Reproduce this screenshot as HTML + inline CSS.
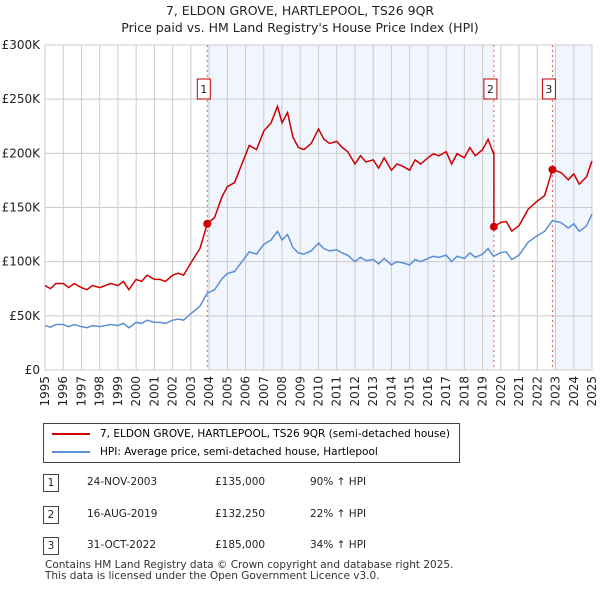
<!DOCTYPE html>
<html><head><meta charset="utf-8"><style>
body{margin:0;background:#fff;font-family:"DejaVu Sans","Liberation Sans",sans-serif;}
#wrap{position:relative;width:600px;height:590px;overflow:hidden}
.t{position:absolute;font-size:12px;color:#222}
svg text{font-family:"DejaVu Sans","Liberation Sans",sans-serif}
</style></head><body><div id="wrap">
<div class="t" style="left:0;width:600px;top:2px;text-align:center;font-size:12.5px;line-height:17px">7, ELDON GROVE, HARTLEPOOL, TS26 9QR<br>Price paid vs. HM Land Registry's House Price Index (HPI)</div>
<svg id="c" width="600" height="420" style="position:absolute;left:0;top:0"></svg>
<div style="position:absolute;left:43px;top:423px;width:415px;height:38px;border:1px solid #444;font-size:10.5px">
 <div style="position:absolute;left:8px;top:4px;white-space:nowrap"><span style="display:inline-block;width:38px;border-top:2px solid #cc0000;vertical-align:middle;margin-right:10px"></span>7, ELDON GROVE, HARTLEPOOL, TS26 9QR (semi-detached house)</div>
 <div style="position:absolute;left:8px;top:22px;white-space:nowrap"><span style="display:inline-block;width:38px;border-top:2px solid #5b8fd4;vertical-align:middle;margin-right:10px"></span>HPI: Average price, semi-detached house, Hartlepool</div>
</div>
<div id="tbl"></div>
<div class="t" style="left:45px;top:560px;font-size:10.5px;line-height:11px;color:#333">Contains HM Land Registry data © Crown copyright and database right 2025.<br>This data is licensed under the Open Government Licence v3.0.</div>
</div>
<script>
const hpiYears=[1995,1995.3,1995.6,1996,1996.3,1996.6,1997,1997.3,1997.6,1998,1998.3,1998.6,1999,1999.3,1999.6,2000,2000.3,2000.6,2001,2001.3,2001.6,2002,2002.3,2002.6,2003,2003.5,2003.9,2004.3,2004.7,2005,2005.4,2005.8,2006.2,2006.6,2007,2007.4,2007.75,2008,2008.3,2008.6,2008.9,2009.2,2009.6,2010,2010.3,2010.6,2011,2011.3,2011.6,2012,2012.3,2012.6,2013,2013.3,2013.6,2014,2014.3,2014.6,2015,2015.3,2015.6,2016,2016.3,2016.6,2017,2017.3,2017.6,2018,2018.3,2018.6,2019,2019.3,2019.6,2020,2020.3,2020.6,2021,2021.5,2022,2022.4,2022.83,2023.3,2023.7,2024,2024.3,2024.7,2025];
const hpiValues=[41000,39500,42000,42000,40000,42000,40000,39000,41000,40000,41000,42000,41000,43000,39000,44000,43000,46000,44000,44000,43000,46000,47000,46000,52000,59000,71000,74000,84000,89000,91000,100000,109000,107000,116000,120000,128000,120000,125000,113000,108000,107000,110000,117000,112000,110000,111000,108000,106000,100000,104000,101000,102000,98000,103000,97000,100000,99000,97000,102000,100000,103000,105000,104000,106000,100000,105000,103000,108000,104000,107000,112000,105000,108400,109000,102000,106000,118000,124000,128000,138000,136000,131000,135000,128000,133000,144000];
const saleYears=[2003.9,2019.62,2022.83];
const salePrices=[135000,132250,185000];
const saleLabels=["1","2","3"];
const saleDates=["24-NOV-2003","16-AUG-2019","31-OCT-2022"];
const salePriceText=["£135,000","£132,250","£185,000"];
const saleHpiText=["90% ↑ HPI","22% ↑ HPI","34% ↑ HPI"];
const yTicks=[0,50000,100000,150000,200000,250000,300000];
const yTickLabels=["£0","£50K","£100K","£150K","£200K","£250K","£300K"];
const xTicks=[1995,1996,1997,1998,1999,2000,2001,2002,2003,2004,2005,2006,2007,2008,2009,2010,2011,2012,2013,2014,2015,2016,2017,2018,2019,2020,2021,2022,2023,2024,2025];

const X0=45,X1=592,Y0=370,Y1=45;
const xs=v=>X0+(v-1995)/30*(X1-X0);
const ys=v=>Y0-v/300000*(Y0-Y1);
const svg=document.getElementById('c');const NS='http://www.w3.org/2000/svg';
function mk(t,a,name){const e=document.createElementNS(NS,t);for(const k in a)e.setAttribute(k,a[k]);


svg.appendChild(e);return e;}
mk('rect',{x:xs(saleYears[0]),y:Y1,width:xs(saleYears[1])-xs(saleYears[0]),height:Y0-Y1,fill:'#eef3fc',opacity:0.8},'shade-1');
mk('rect',{x:xs(saleYears[2]),y:Y1,width:X1-xs(saleYears[2]),height:Y0-Y1,fill:'#eef3fc',opacity:0.8},'shade-3');
yTicks.forEach((v,i)=>{mk('line',{x1:X0,x2:X1,y1:ys(v),y2:ys(v),stroke:'#ccc'},'y-grid');
const t=mk('text',{x:40,y:ys(v)+4,'text-anchor':'end','font-size':12,fill:'#222'},'y-tick-label');t.textContent=yTickLabels[i];});
xTicks.forEach(v=>{mk('line',{x1:xs(v),x2:xs(v),y1:Y1,y2:Y0,stroke:'#ccc'},'x-grid');
const t=mk('text',{x:xs(v)+4,y:Y0+6,'text-anchor':'end','font-size':12,fill:'#222',transform:`rotate(-90 ${xs(v)+4} ${Y0+6})`},'x-tick-label');t.textContent=v;});
mk('rect',{x:X0,y:Y1,width:X1-X0,height:Y0-Y1,fill:'none',stroke:'#ccc'},'plot-frame');
function hpiAt(y){for(let i=1;i<hpiYears.length;i++){if(y<=hpiYears[i]){const f=(y-hpiYears[i-1])/(hpiYears[i]-hpiYears[i-1]);return hpiValues[i-1]+f*(hpiValues[i]-hpiValues[i-1]);}}return hpiValues[hpiValues.length-1];}
const ratios=saleYears.map((y,i)=>salePrices[i]/hpiAt(y));
let red=[];
hpiYears.forEach((y,i)=>{let k=y<saleYears[1]?0:(y<saleYears[2]?1:2);
if(k===1&&red.length&&hpiYears[i-1]<saleYears[1]){red.push([saleYears[1],hpiAt(saleYears[1])*ratios[0]]);red.push([saleYears[1],salePrices[1]]);}
if(k===2&&hpiYears[i-1]<saleYears[2]){red.push([saleYears[2],salePrices[2]]);}
red.push([y,hpiValues[i]*ratios[k]]);});
saleLabels.forEach((l,i)=>{const x=xs(saleYears[i]);
mk('line',{x1:x,x2:x,y1:Y1,y2:Y0,stroke:'#e06060','stroke-dasharray':'2,3'},'sale-marker-line');
mk('rect',{x:x-10,y:79,width:13,height:20,fill:'#fff',stroke:'#c00000'},'sale-label-box');
const t=mk('text',{x:x-3.5,y:93,'text-anchor':'middle','font-size':11,fill:'#222'},'sale-label');t.textContent=l;});
mk('polyline',{points:hpiYears.map((y,i)=>xs(y)+','+ys(hpiValues[i])).join(' '),fill:'none',stroke:'#5b8fd4','stroke-width':1.5},'hpi-line');
mk('polyline',{points:red.map(p=>xs(p[0])+','+ys(p[1])).join(' '),fill:'none',stroke:'#cc0000','stroke-width':1.5},'price-line');
saleYears.forEach((y,i)=>mk('circle',{cx:xs(y),cy:ys(salePrices[i]),r:4,fill:'#cc0000'},'sale-point'));
const tb=document.getElementById('tbl');
saleLabels.forEach((l,i)=>{const top=474+i*31.5;
tb.insertAdjacentHTML('beforeend',`<div style="position:absolute;left:0;top:${top}px;width:600px;font-size:10.5px;color:#222">
<div style="position:absolute;left:43px;top:0;width:14px;height:16px;border:1px solid #444;text-align:center;line-height:16px">${l}</div>
<div style="position:absolute;left:87px;top:2px">${saleDates[i]}</div>
<div style="position:absolute;left:215px;top:2px">${salePriceText[i]}</div>
<div style="position:absolute;left:310px;top:2px">${saleHpiText[i]}</div></div>`);});
</script></body></html>
